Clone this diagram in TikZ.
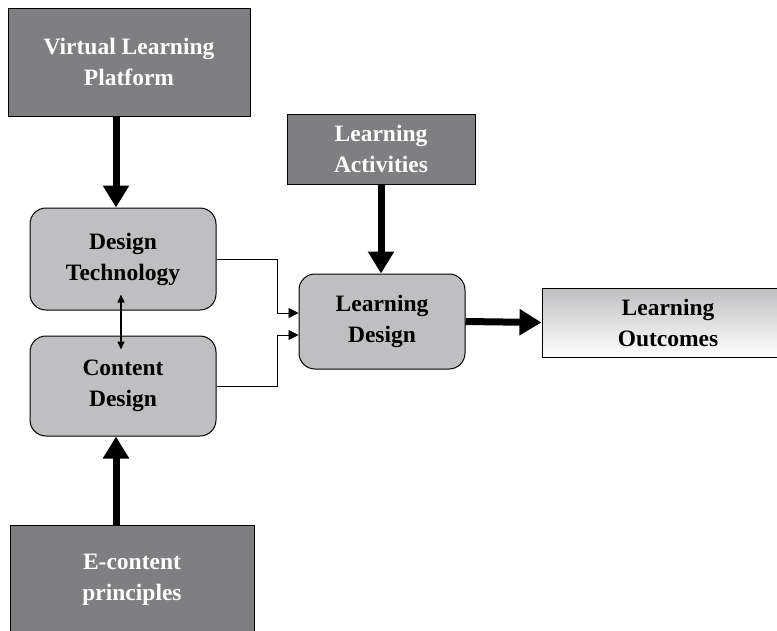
\documentclass[tikz,border=0pt]{standalone}
\usepackage{fontspec}
\setmainfont{Liberation Serif}
\usetikzlibrary{arrows.meta}
\definecolor{darkbox}{RGB}{127,127,130}
\definecolor{lightbox}{RGB}{191,191,193}
\tikzset{
  txt/.style={font=\fontsize{23.5}{31}\selectfont\bfseries, align=center},
  darkrect/.style={txt, draw=black, line width=1pt, fill=darkbox, text=white, inner sep=0pt},
  lightround/.style={txt, draw=black, line width=1pt, fill=lightbox, text=black, rounded corners=16pt, inner sep=0pt},
  gradrect/.style={txt, draw=black, line width=1pt, top color=lightbox, bottom color=white, text=black, inner sep=0pt},
  bigarrow/.style={line width=7pt, -{Triangle[width=25pt,length=22pt]}},
  thinarrow/.style={line width=0.9pt, -{Triangle[width=10pt,length=10pt]}},
  duoarrow/.style={line width=1.6pt, {Triangle[width=7pt,length=8pt]}-{Triangle[width=7pt,length=8pt]}}
}
\begin{document}
\begin{tikzpicture}[x=1pt,y=-1pt]
\useasboundingbox (0,0) rectangle (777,630);
\fill[white] (0,0) rectangle (777,630);
\node[darkrect, minimum width=242pt, minimum height=108pt] (vlp) at (129,62) {Virtual Learning\\Platform};
\node[lightround, minimum width=186pt, minimum height=102pt] (dt) at (123,259) {Design\\Technology};
\node[lightround, minimum width=186pt, minimum height=100pt] (cd) at (123,386) {Content\\Design};
\node[darkrect, minimum width=244pt, minimum height=110pt] (ec) at (132,580) {E-content\\principles};
\node[darkrect, minimum width=188pt, minimum height=70pt] (la) at (381,149) {Learning\\Activities};
\node[lightround, minimum width=166pt, minimum height=95pt] (ld) at (382,321.5) {Learning\\Design};
\node[gradrect, minimum width=252pt, minimum height=69pt] (lo) at (668,322.5) {Learning\\Outcomes};

\draw[bigarrow] ([xshift=-13pt]vlp.south) -- ([xshift=-7pt]dt.north);
\draw[bigarrow] ([xshift=-16pt]ec.north) -- ([xshift=-7pt]cd.south);
\draw[bigarrow] (la.south) -- (la.south |- ld.north);
\draw[bigarrow] (ld.east) -- (lo.west);
\draw[duoarrow] ([xshift=-2pt,yshift=16pt]dt.south) -- ([xshift=-2pt,yshift=-14pt]cd.north);
\draw[thinarrow] (dt.east) -- ++(61,0) |- ([yshift=8.5pt]ld.west);
\draw[thinarrow] (cd.east) -- ++(61,0) |- ([yshift=-13.5pt]ld.west);
\end{tikzpicture}
\end{document}
